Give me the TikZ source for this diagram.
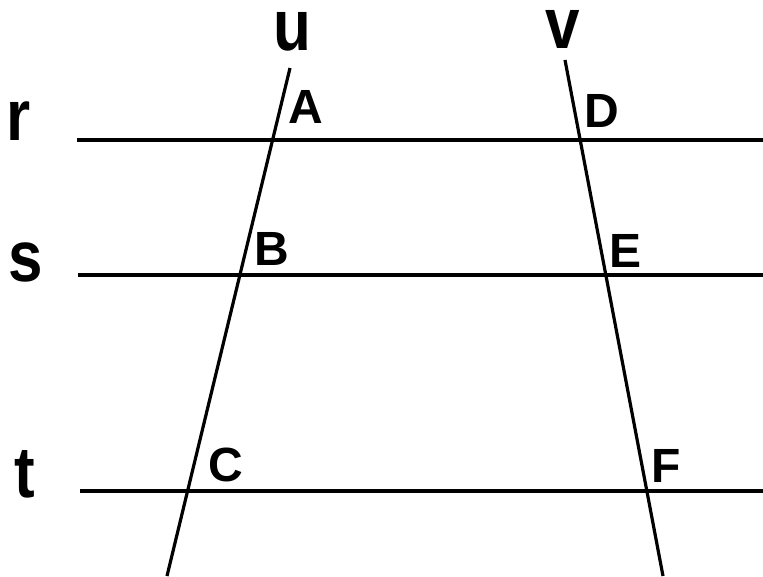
\documentclass[tikz,border=0pt]{standalone}
\usepackage{fontspec}
\setmainfont{Liberation Sans}
\newcommand{\narrowtxt}[1]{\scalebox{0.86}[1]{#1}}
\begin{document}
\begin{tikzpicture}[x=1pt,y=-1pt,
  lbl/.style={anchor=base west,inner sep=0pt,font=\bfseries\fontsize{72}{72}\selectfont},
  pt/.style={anchor=base west,inner sep=0pt,font=\bfseries\fontsize{48}{48}\selectfont},
  ln/.style={line width=3.2pt,line cap=butt}]
\useasboundingbox[fill=white] (0,0) rectangle (763,576);
% endpoints
\coordinate (r1) at (77,140);  \coordinate (r2) at (763,140);
\coordinate (s1) at (78,275);  \coordinate (s2) at (763,275);
\coordinate (t1) at (80,491);  \coordinate (t2) at (763,491);
\coordinate (u1) at (290,68);  \coordinate (u2) at (167,576);
\coordinate (v1) at (565,60);  \coordinate (v2) at (663,576);
\draw[ln] (r1) -- (r2);
\draw[ln] (s1) -- (s2);
\draw[ln] (t1) -- (t2);
\draw[ln] (u1) -- (u2);
\draw[ln] (v1) -- (v2);
% line labels
\node[lbl] (lu) at (273,50) {\narrowtxt{u}};
\node[lbl] (lv) at (545,48) {\narrowtxt{v}};
\node[lbl] (lr) at (6,140) {\narrowtxt{r}};
\node[lbl] (ls) at (8,281) {\narrowtxt{s}};
\node[lbl] (lt) at (14,497) {\narrowtxt{t}};
% point labels
\node[pt] (pA) at (288,123) {A};
\node[pt] (pB) at (254,265) {B};
\node[pt] (pC) at (208,481) {C};
\node[pt] (pD) at (584,127) {D};
\node[pt] (pE) at (609,267) {E};
\node[pt] (pF) at (651,482) {F};
\end{tikzpicture}
\end{document}
